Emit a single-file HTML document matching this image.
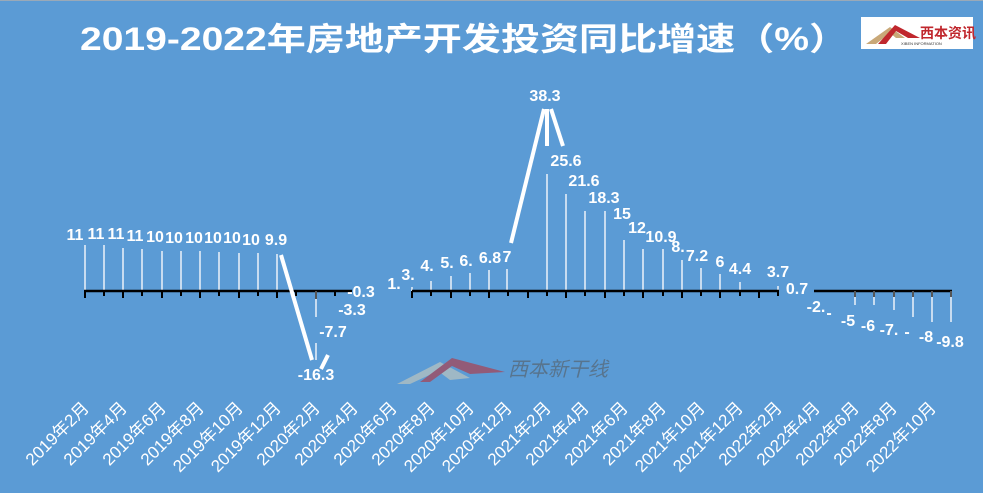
<!DOCTYPE html>
<html><head><meta charset="utf-8"><style>
html,body{margin:0;padding:0;background:#5B9BD5;}
svg{display:block;}
text{font-family:"Liberation Sans","Noto Sans CJK SC",sans-serif;}
</style></head><body>
<svg width="983" height="493" viewBox="0 0 983 493" xmlns="http://www.w3.org/2000/svg">
<rect x="0" y="0" width="983" height="493" fill="#5B9BD5"/>
<rect x="0" y="0" width="983" height="1" fill="#9aa9b8"/>
<text x="80" y="50" font-size="32" font-weight="bold" fill="#fff" textLength="768" lengthAdjust="spacingAndGlyphs">2019-2022年房地产开发投资同比增速（%）</text>
<rect x="861" y="17" width="112" height="32" fill="#fff"/>
<polygon points="866,44 890,27 905,38 896,38 890,33 876,44" fill="#c9a878"/>
<polygon points="878,44 895,25 920,38 908,38 896,31 886,44" fill="#c0272d"/>
<text x="920" y="38" font-size="14" font-weight="bold" fill="#c0272d" font-family="Noto Sans CJK SC,sans-serif">西本资讯</text>
<text x="901" y="45" font-size="4" fill="#333">XIBEN INFORMATION</text>
<g opacity="0.55">
<polygon points="397,384 440,362 470,378 450,380 438,371 410,384" fill="#d8d0b8"/>
<polygon points="420,382 452,358 505,372 470,374 452,366 430,382" fill="#c0272d"/>
<text x="508" y="376" font-size="20" font-style="italic" fill="#555">西本新干线</text>
</g>
<g id="bars" stroke="#c8dcf0" stroke-width="2">
<line x1="85" y1="291" x2="85" y2="245"/><line x1="104" y1="291" x2="104" y2="245"/>
<line x1="123" y1="291" x2="123" y2="248"/><line x1="142" y1="291" x2="142" y2="249"/>
<line x1="162" y1="291" x2="162" y2="251"/><line x1="181" y1="291" x2="181" y2="251"/>
<line x1="200" y1="291" x2="200" y2="251"/><line x1="219" y1="291" x2="219" y2="252"/>
<line x1="239" y1="291" x2="239" y2="253"/><line x1="258" y1="291" x2="258" y2="253"/>
<line x1="277" y1="291" x2="277" y2="254"/>
<line x1="316" y1="291" x2="316" y2="317"/><line x1="316" y1="343" x2="316" y2="360"/>
<line x1="412" y1="291" x2="412" y2="287"/><line x1="431" y1="291" x2="431" y2="281"/>
<line x1="451" y1="291" x2="451" y2="276"/><line x1="470" y1="291" x2="470" y2="273"/>
<line x1="489" y1="291" x2="489" y2="270"/><line x1="507" y1="291" x2="507" y2="269"/>
<line x1="547" y1="291" x2="547" y2="174"/><line x1="566" y1="291" x2="566" y2="194"/>
<line x1="585" y1="291" x2="585" y2="211"/><line x1="605" y1="291" x2="605" y2="211"/>
<line x1="624" y1="291" x2="624" y2="240"/><line x1="643" y1="291" x2="643" y2="249"/>
<line x1="663" y1="291" x2="663" y2="249"/><line x1="682" y1="291" x2="682" y2="260"/>
<line x1="701" y1="291" x2="701" y2="268"/><line x1="720" y1="291" x2="720" y2="274"/>
<line x1="740" y1="291" x2="740" y2="282"/><line x1="778" y1="291" x2="778" y2="286"/>
<line x1="855" y1="291" x2="855" y2="305"/><line x1="874" y1="291" x2="874" y2="305"/>
<line x1="894" y1="291" x2="894" y2="310"/><line x1="913" y1="291" x2="913" y2="317"/>
<line x1="932" y1="291" x2="932" y2="322"/><line x1="951" y1="291" x2="951" y2="322"/>
</g>
<g stroke="#000" stroke-width="2.5">
<line x1="84" y1="291" x2="352" y2="291"/>
<line x1="412" y1="291" x2="779" y2="291"/>
<line x1="814" y1="291" x2="952" y2="291"/>
</g>
<g stroke="#000" stroke-width="2">
<path d="M85,291v7M104,291v5M123,291v7M142,291v5M162,291v7M181,291v5M200,291v7M219,291v5M239,291v7M258,291v5M277,291v7M296,291v5M335,291v5
M412,291v7M431,291v5M451,291v7M470,291v5M489,291v7M508,291v5M528,291v7M547,291v5M566,291v7M585,291v5M605,291v7M624,291v5M643,291v7M663,291v5M682,291v7M701,291v5M720,291v7M740,291v5M759,291v7M778,291v5"/>
</g>
<g stroke="#555" stroke-width="2">
<path d="M316,291v8M855,291v6M874,291v6M894,291v6M913,291v6M932,291v6M951,291v6"/>
</g>
<g stroke="#fff" stroke-width="4">
<line x1="281" y1="255" x2="312" y2="360"/>
<line x1="321" y1="369" x2="328" y2="355"/>
<line x1="544" y1="109" x2="511" y2="243"/>
<line x1="547" y1="109" x2="547" y2="146"/>
<line x1="551" y1="109" x2="563" y2="146"/>
</g>
<g font-size="16" font-weight="bold" fill="#fff" text-anchor="middle">
<text x="75" y="240">11</text><text x="96" y="239">11</text><text x="116" y="239">11</text>
<text x="135" y="241">11</text><text x="155" y="242">10</text><text x="174" y="243">10</text>
<text x="194" y="243">10</text><text x="213" y="243">10</text><text x="232" y="243">10</text>
<text x="251" y="245">10</text><text x="276" y="245">9.9</text>
<text x="316" y="380">-16.3</text><text x="333" y="337">-7.7</text>
<text x="352" y="315">-3.3</text><text x="361" y="297">-0.3</text>
<text x="394" y="289">1.</text><text x="408" y="280">3.</text><text x="427" y="271">4.</text>
<text x="447" y="268">5.</text><text x="466" y="266">6.</text><text x="490" y="263">6.8</text>
<text x="507" y="262">7</text>
<text x="545" y="101">38.3</text><text x="566" y="166">25.6</text>
<text x="584" y="186">21.6</text><text x="604" y="203">18.3</text>
<text x="622" y="219">15</text><text x="637" y="233">12</text>
<text x="661" y="242">10.9</text><text x="678" y="252">8.</text>
<text x="697" y="261">7.2</text><text x="720" y="267">6</text>
<text x="740" y="274">4.4</text><text x="778" y="277">3.7</text>
<text x="797" y="294">0.7</text>
<text x="816" y="312">-2.</text><text x="829" y="318">-</text>
<text x="848" y="326">-5</text><text x="868" y="331">-6</text>
<text x="889" y="335">-7.</text><text x="907" y="337">-</text>
<text x="926" y="342">-8</text><text x="950" y="347">-9.8</text>
</g>
<g font-size="17" fill="#fff" text-anchor="end">
<text transform="translate(90,409) rotate(-45)">2019年2月</text>
<text transform="translate(128,409) rotate(-45)">2019年4月</text>
<text transform="translate(167,409) rotate(-45)">2019年6月</text>
<text transform="translate(205,409) rotate(-45)">2019年8月</text>
<text transform="translate(244,409) rotate(-45)">2019年10月</text>
<text transform="translate(282,409) rotate(-45)">2019年12月</text>
<text transform="translate(321,409) rotate(-45)">2020年2月</text>
<text transform="translate(359,409) rotate(-45)">2020年4月</text>
<text transform="translate(398,409) rotate(-45)">2020年6月</text>
<text transform="translate(436,409) rotate(-45)">2020年8月</text>
<text transform="translate(475,409) rotate(-45)">2020年10月</text>
<text transform="translate(513,409) rotate(-45)">2020年12月</text>
<text transform="translate(552,409) rotate(-45)">2021年2月</text>
<text transform="translate(590,409) rotate(-45)">2021年4月</text>
<text transform="translate(629,409) rotate(-45)">2021年6月</text>
<text transform="translate(667,409) rotate(-45)">2021年8月</text>
<text transform="translate(706,409) rotate(-45)">2021年10月</text>
<text transform="translate(744,409) rotate(-45)">2021年12月</text>
<text transform="translate(783,409) rotate(-45)">2022年2月</text>
<text transform="translate(821,409) rotate(-45)">2022年4月</text>
<text transform="translate(860,409) rotate(-45)">2022年6月</text>
<text transform="translate(898,409) rotate(-45)">2022年8月</text>
<text transform="translate(937,409) rotate(-45)">2022年10月</text>
</g>
</svg>
</body></html>
